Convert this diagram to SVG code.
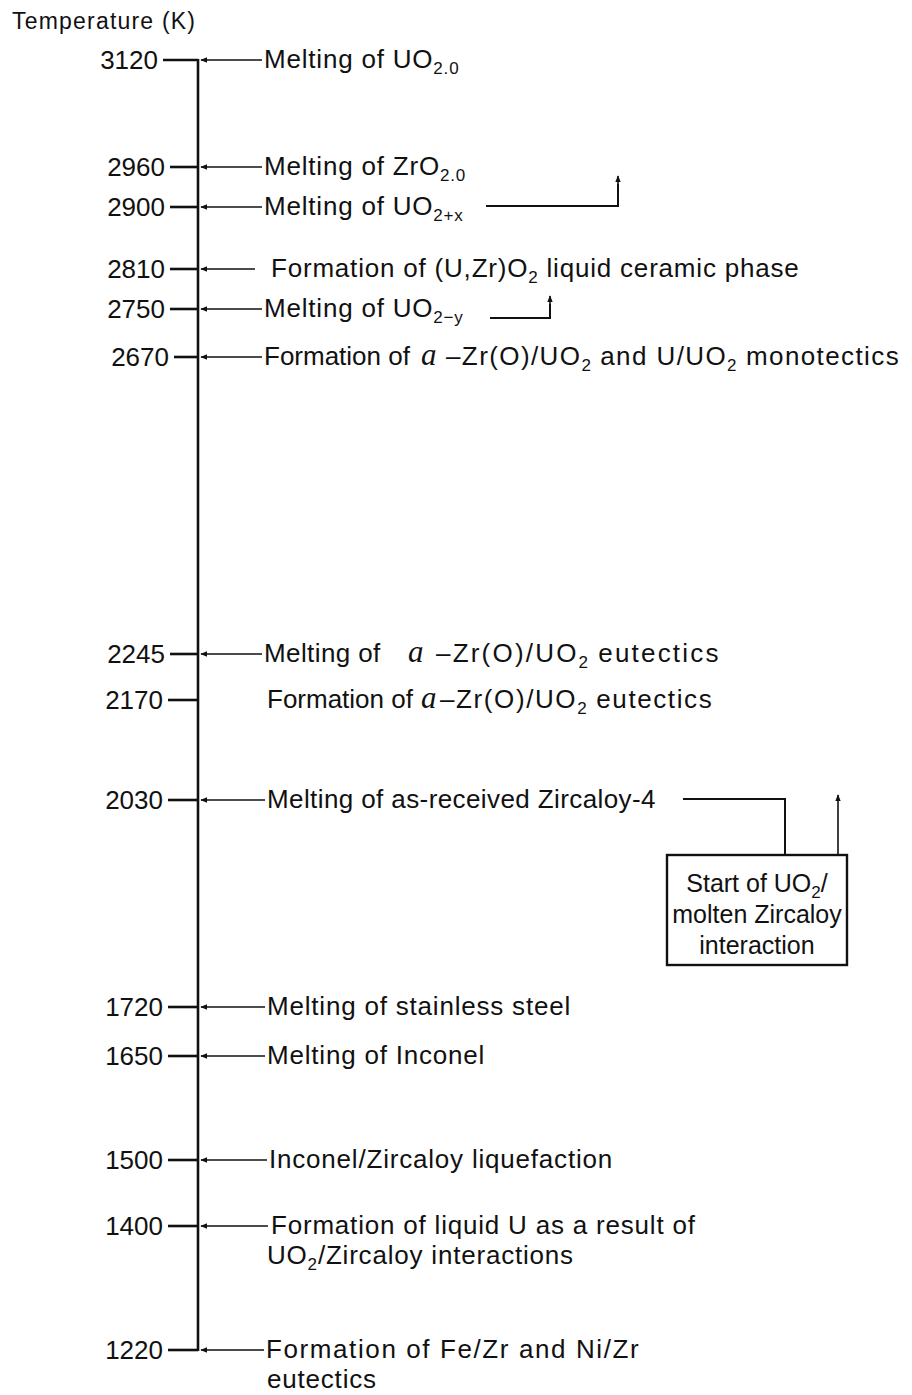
<svg xmlns="http://www.w3.org/2000/svg" width="912" height="1395" viewBox="0 0 912 1395">
<style>
text{font-family:"Liberation Sans",Arial,sans-serif;fill:#111}
.lbl{font-size:26px;letter-spacing:0.8px}
.bx{font-size:25px;text-anchor:middle}
.num{font-size:26px;text-anchor:end}
.sub{font-size:17px}
.al{font-family:"Liberation Serif","Times New Roman",serif;font-style:italic;font-size:31px;letter-spacing:0}
.tick{stroke:#111;stroke-width:2.6;fill:none}
.arr{stroke:#111;stroke-width:1.6;fill:none;marker-end:url(#ah)}
.ln{stroke:#111;stroke-width:2;fill:none}
.box{stroke:#111;stroke-width:2.4;fill:#fff}
</style>
<defs>
<marker id="ah" viewBox="0 0 10 8" refX="9" refY="4" markerWidth="7" markerHeight="5.5" markerUnits="userSpaceOnUse" orient="auto">
<path d="M0,0 L10,4 L0,8 Z" fill="#111"/>
</marker>
</defs>
<rect width="912" height="1395" fill="#fff"/>

<text x="12" y="29" style="font-size:23px;letter-spacing:1.2px">Temperature (K)</text>

<g id="axis">
<line class="tick" x1="198" y1="59" x2="198" y2="1351"/>
</g>

<g id="ticks">
<g id="t3120"><line class="tick" x1="163" y1="60" x2="198" y2="60"/><text class="num" x="158" y="69">3120</text></g>
<g id="t2960"><line class="tick" x1="170" y1="167" x2="198" y2="167"/><text class="num" x="165" y="176">2960</text></g>
<g id="t2900"><line class="tick" x1="170" y1="207" x2="198" y2="207"/><text class="num" x="165" y="216">2900</text></g>
<g id="t2810"><line class="tick" x1="170" y1="269" x2="198" y2="269"/><text class="num" x="165" y="278">2810</text></g>
<g id="t2750"><line class="tick" x1="170" y1="309" x2="198" y2="309"/><text class="num" x="165" y="318">2750</text></g>
<g id="t2670"><line class="tick" x1="174" y1="357" x2="198" y2="357"/><text class="num" x="169" y="366">2670</text></g>
<g id="t2245"><line class="tick" x1="170" y1="654" x2="198" y2="654"/><text class="num" x="165" y="663">2245</text></g>
<g id="t2170"><line class="tick" x1="168" y1="700" x2="198" y2="700"/><text class="num" x="163" y="709">2170</text></g>
<g id="t2030"><line class="tick" x1="168" y1="800" x2="198" y2="800"/><text class="num" x="163" y="809">2030</text></g>
<g id="t1720"><line class="tick" x1="168" y1="1007" x2="198" y2="1007"/><text class="num" x="163" y="1016">1720</text></g>
<g id="t1650"><line class="tick" x1="168" y1="1056" x2="198" y2="1056"/><text class="num" x="163" y="1065">1650</text></g>
<g id="t1500"><line class="tick" x1="168" y1="1160" x2="198" y2="1160"/><text class="num" x="163" y="1169">1500</text></g>
<g id="t1400"><line class="tick" x1="168" y1="1226" x2="198" y2="1226"/><text class="num" x="163" y="1235">1400</text></g>
<g id="t1220"><line class="tick" x1="168" y1="1350" x2="198" y2="1350"/><text class="num" x="163" y="1359">1220</text></g>
</g>

<g id="connectors">
<line class="arr" x1="262" y1="60" x2="201" y2="60"/>
<line class="arr" x1="262" y1="167" x2="201" y2="167"/>
<line class="arr" x1="262" y1="207" x2="201" y2="207"/>
<line class="arr" x1="255" y1="269" x2="201" y2="269"/>
<line class="arr" x1="262" y1="309" x2="201" y2="309"/>
<line class="arr" x1="262" y1="357" x2="201" y2="357"/>
<line class="arr" x1="262" y1="654" x2="201" y2="654"/>
<line class="arr" x1="265" y1="800" x2="201" y2="800"/>
<line class="arr" x1="265" y1="1007" x2="201" y2="1007"/>
<line class="arr" x1="265" y1="1056" x2="201" y2="1056"/>
<line class="arr" x1="267" y1="1160" x2="201" y2="1160"/>
<line class="arr" x1="268" y1="1226" x2="201" y2="1226"/>
<line class="arr" x1="264" y1="1350" x2="201" y2="1350"/>
<path class="ln" d="M486,206 H618 V184"/>
<line class="arr" x1="618" y1="190" x2="618" y2="176"/>
<path class="ln" d="M490,318 H550 V304"/>
<line class="arr" x1="550" y1="308" x2="550" y2="296"/>
<path class="ln" d="M683,799 H785 V855"/>
<line class="arr" x1="838" y1="855" x2="838" y2="795"/>
</g>

<g id="n3120"><text class="lbl" x="264" y="68">Melting of UO<tspan class="sub" dy="6">2.0</tspan></text></g>
<g id="n2960"><text class="lbl" x="264" y="175">Melting of ZrO<tspan class="sub" dy="6">2.0</tspan></text></g>
<g id="n2900"><text class="lbl" x="264" y="215">Melting of UO<tspan class="sub" dy="6">2+x</tspan></text></g>
<g id="n2810"><text class="lbl" x="271" y="277">Formation of (U,Zr)O<tspan class="sub" dy="6">2</tspan><tspan dy="-6"> liquid ceramic phase</tspan></text></g>
<g id="n2750"><text class="lbl" x="264" y="317">Melting of UO<tspan class="sub" dy="6">2−y</tspan></text></g>
<g id="n2670"><text class="lbl" x="264" y="365"><tspan style="letter-spacing:0">Formation of</tspan><tspan class="al" x="421">a</tspan><tspan x="446" style="letter-spacing:1.4px">–Zr(O)/UO</tspan><tspan class="sub" dy="6">2</tspan><tspan dy="-6" style="letter-spacing:1.4px"> and U/UO</tspan><tspan class="sub" dy="6">2</tspan><tspan dy="-6" style="letter-spacing:1.4px"> monotectics</tspan></text></g>
<g id="n2245"><text class="lbl" x="264" y="662"><tspan style="letter-spacing:0.4px">Melting of</tspan><tspan class="al" x="408">a</tspan><tspan x="436" style="letter-spacing:2.2px">–Zr(O)/UO</tspan><tspan class="sub" dy="6">2</tspan><tspan dy="-6" style="letter-spacing:2.2px"> eutectics</tspan></text></g>
<g id="n2170"><text class="lbl" x="267" y="708"><tspan style="letter-spacing:0">Formation of</tspan><tspan class="al" x="421">a</tspan><tspan x="440" style="letter-spacing:1.6px">–Zr(O)/UO</tspan><tspan class="sub" dy="6">2</tspan><tspan dy="-6" style="letter-spacing:1.6px"> eutectics</tspan></text></g>
<g id="n2030"><text class="lbl" x="267" y="808" style="letter-spacing:0.4px">Melting of as-received Zircaloy-4</text></g>
<g id="nbox">
<rect class="box" x="667" y="855" width="180" height="110"/>
<text class="bx" x="757" y="892">Start of UO<tspan class="sub" dy="6">2</tspan><tspan dy="-6">/</tspan></text>
<text class="bx" x="757" y="923">molten Zircaloy</text>
<text class="bx" x="757" y="954">interaction</text>
</g>
<g id="n1720"><text class="lbl" x="267" y="1015">Melting of stainless steel</text></g>
<g id="n1650"><text class="lbl" x="267" y="1064">Melting of Inconel</text></g>
<g id="n1500"><text class="lbl" x="269" y="1168">Inconel/Zircaloy liquefaction</text></g>
<g id="n1400"><text class="lbl" x="271" y="1234">Formation of liquid U as a result of</text><text class="lbl" x="267" y="1264">UO<tspan class="sub" dy="6">2</tspan><tspan dy="-6">/Zircaloy interactions</tspan></text></g>
<g id="n1220"><text class="lbl" x="266" y="1358" style="letter-spacing:1.6px">Formation of Fe/Zr and Ni/Zr</text><text class="lbl" x="267" y="1388">eutectics</text></g>
</svg>
